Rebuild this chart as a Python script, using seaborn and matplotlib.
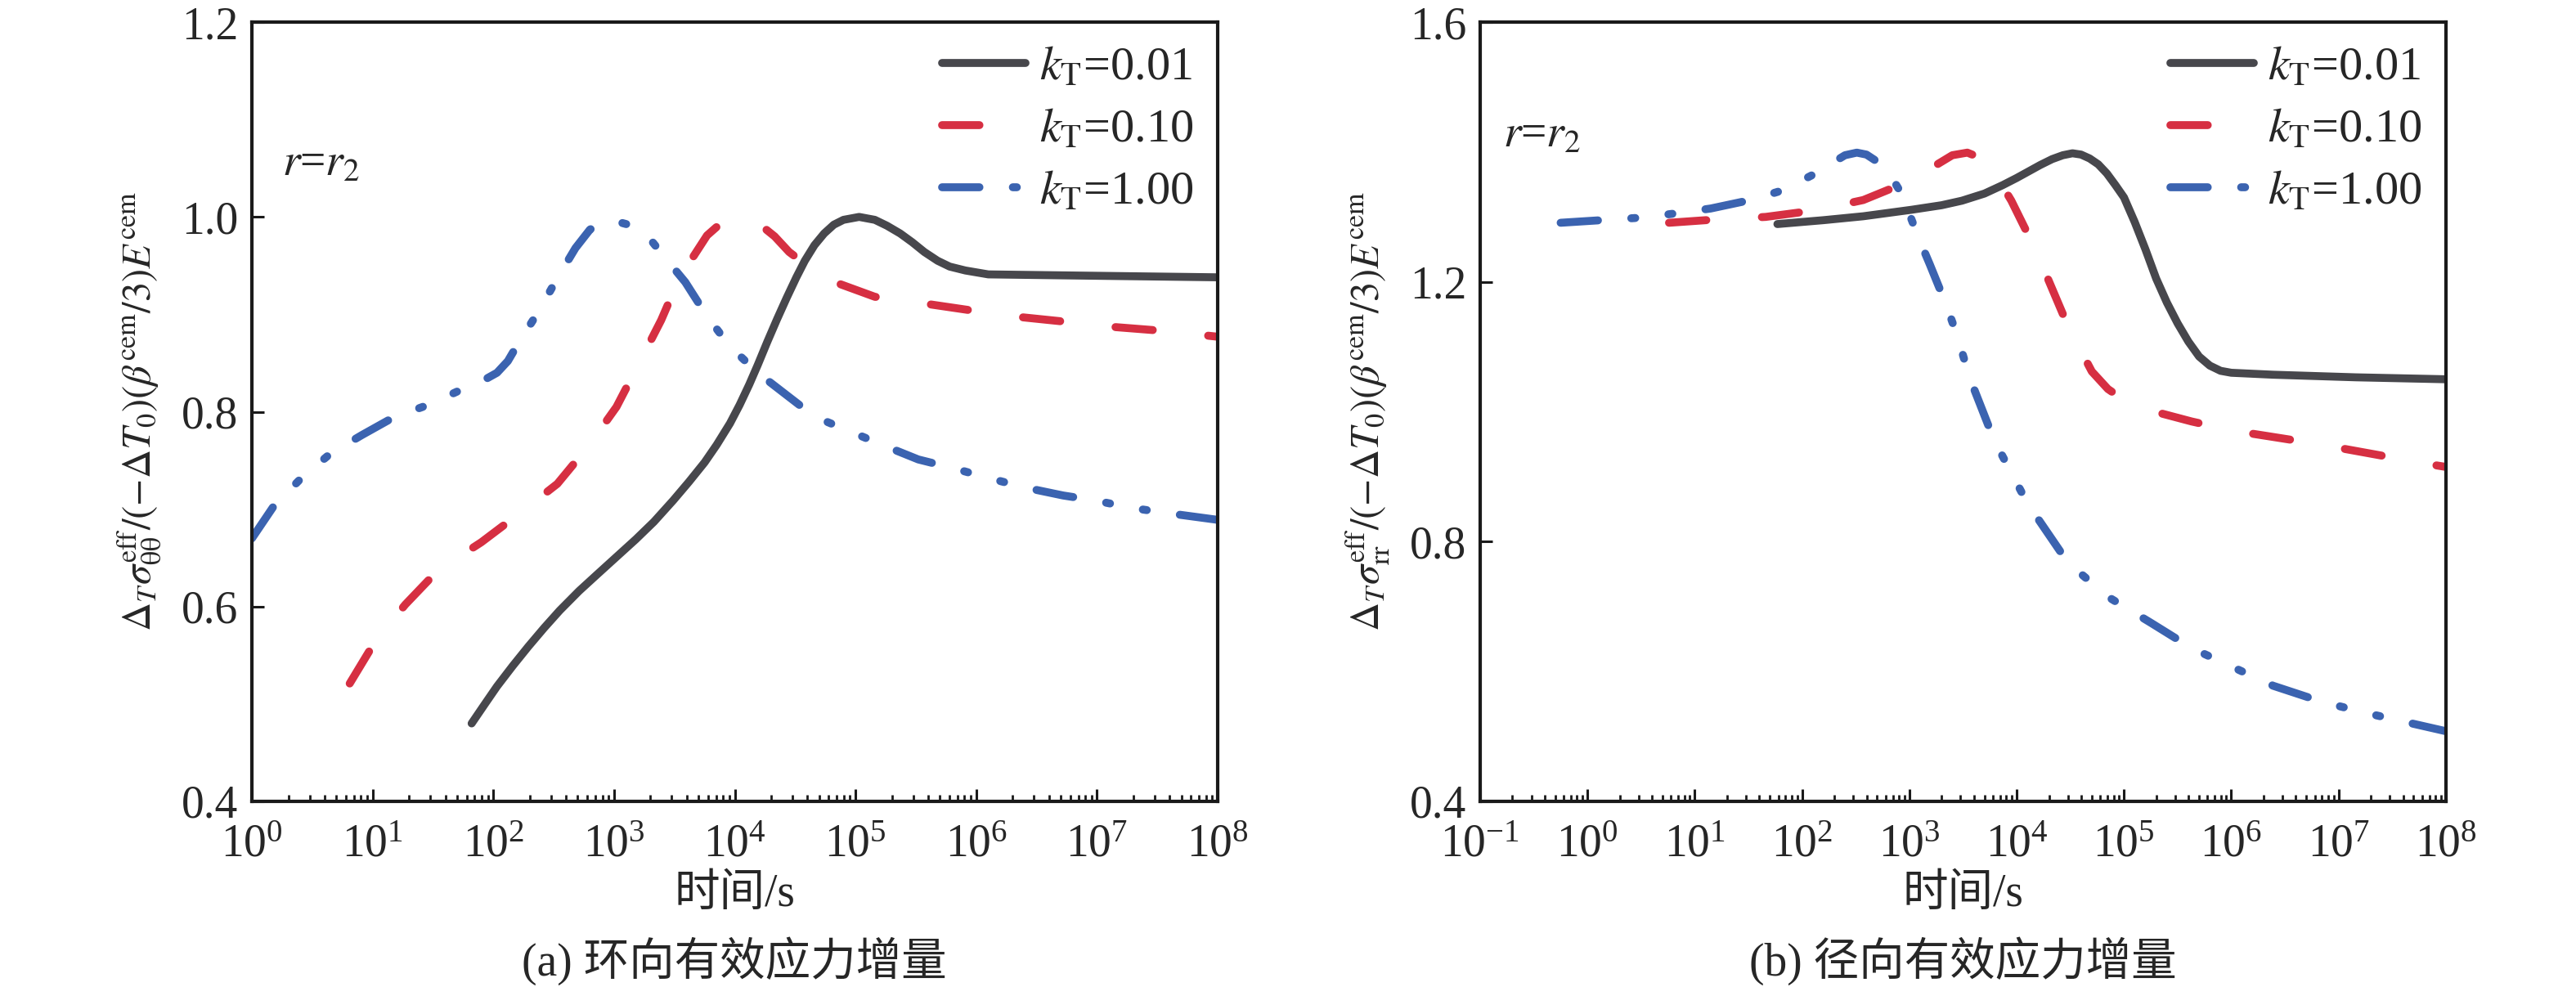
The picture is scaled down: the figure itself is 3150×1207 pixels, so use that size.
import numpy as np
import matplotlib
matplotlib.use("Agg")
import matplotlib.pyplot as plt
from matplotlib.ticker import LogLocator, NullFormatter, FixedLocator, FormatStrFormatter
import seaborn as sns

# values, time given as log10(t / s)
# (a) hoop stress increment
a_lgt_001 = [1.82, 1.93, 2.03, 2.16, 2.29, 2.42, 2.55, 2.71, 2.86, 3.02, 3.18, 3.33, 3.49, 3.62,
             3.75, 3.85, 3.96, 4.04, 4.12, 4.19, 4.27, 4.35, 4.43, 4.51, 4.58, 4.66, 4.74, 4.82,
             4.90, 5.03, 5.16, 5.26, 5.37, 5.47, 5.57, 5.68, 5.78, 5.91, 6.10, 6.72, 8.00]
a_val_001 = [0.480, 0.500, 0.518, 0.539, 0.559, 0.578, 0.596, 0.616, 0.633, 0.651, 0.669, 0.687, 0.709, 0.728,
             0.748, 0.766, 0.788, 0.807, 0.828, 0.848, 0.872, 0.895, 0.917, 0.938, 0.955, 0.971, 0.983, 0.992,
             0.997, 1.000, 0.997, 0.991, 0.983, 0.974, 0.964, 0.955, 0.949, 0.945, 0.941, 0.940, 0.938]

a_lgt_010 = [0.81, 1.02, 1.27, 1.54, 1.90, 2.21, 2.53, 2.79, 3.02, 3.20, 3.39, 3.54, 3.77, 3.88,
             3.96, 4.09, 4.20, 4.33, 4.45, 4.74, 5.16, 5.52, 5.96, 6.30, 6.77, 7.14, 7.55, 8.00]
a_val_010 = [0.521, 0.564, 0.602, 0.637, 0.666, 0.695, 0.726, 0.765, 0.805, 0.848, 0.894, 0.937, 0.981, 0.993,
             0.997, 0.999, 0.993, 0.980, 0.964, 0.937, 0.918, 0.912, 0.904, 0.898, 0.892, 0.887, 0.883, 0.877]

a_lgt_100 = [0.00, 0.18, 0.41, 0.65, 0.91, 1.17, 1.46, 1.74, 1.90, 2.03, 2.12, 2.21, 2.37, 2.53,
             2.68, 2.80, 2.89, 3.03, 3.18, 3.30, 3.41, 3.59, 3.77, 3.96, 4.19, 4.43, 4.66, 4.95,
             5.24, 5.52, 5.81, 6.10, 6.41, 6.72, 6.98, 7.30, 7.64, 8.00]
a_val_100 = [0.670, 0.703, 0.732, 0.757, 0.776, 0.794, 0.807, 0.823, 0.831, 0.840, 0.852, 0.871, 0.902, 0.937,
             0.968, 0.987, 0.993, 0.995, 0.990, 0.977, 0.960, 0.933, 0.898, 0.867, 0.840, 0.817, 0.795, 0.780,
             0.765, 0.751, 0.742, 0.732, 0.722, 0.714, 0.709, 0.701, 0.695, 0.689]

# (b) radial stress increment
b_lgt_001 = [1.77, 2.20, 2.57, 3.02, 3.30, 3.49, 3.70, 3.87, 4.00, 4.11, 4.22, 4.33, 4.43, 4.52,
             4.60, 4.68, 4.76, 4.84, 4.92, 5.00, 5.10, 5.20, 5.30, 5.40, 5.50, 5.60, 5.70, 5.80,
             5.90, 6.00, 6.39, 7.16, 8.00]
b_val_001 = [1.289, 1.295, 1.301, 1.311, 1.318, 1.325, 1.336, 1.349, 1.360, 1.370, 1.380, 1.389, 1.395, 1.398,
             1.396, 1.390, 1.381, 1.367, 1.349, 1.330, 1.292, 1.250, 1.205, 1.168, 1.136, 1.108, 1.085, 1.071,
             1.063, 1.060, 1.057, 1.053, 1.050]

b_lgt_010 = [0.76, 1.19, 1.66, 2.12, 2.57, 2.97, 3.26, 3.40, 3.54, 3.63, 3.72, 3.83, 3.95, 4.18,
             4.48, 4.70, 4.85, 5.00, 5.15, 5.63, 6.01, 6.78, 7.85, 8.00]
b_val_010 = [1.291, 1.296, 1.300, 1.310, 1.326, 1.353, 1.381, 1.395, 1.399, 1.393, 1.381, 1.358, 1.325, 1.248,
             1.131, 1.062, 1.035, 1.018, 1.006, 0.985, 0.971, 0.951, 0.919, 0.915]

b_lgt_100 = [-0.25, 0.51, 0.85, 1.15, 1.52, 1.82, 2.16, 2.30, 2.40, 2.51, 2.60, 2.72, 2.83, 2.93,
             3.08, 3.19, 3.34, 3.45, 3.56, 3.79, 4.10, 4.48, 4.86, 5.25, 5.63, 6.01, 6.39, 6.85,
             7.31, 8.00]
b_val_100 = [1.291, 1.299, 1.306, 1.313, 1.326, 1.341, 1.370, 1.385, 1.395, 1.399, 1.396, 1.383, 1.362, 1.335,
             1.270, 1.227, 1.166, 1.115, 1.053, 0.956, 0.859, 0.767, 0.714, 0.675, 0.636, 0.607, 0.578, 0.553,
             0.534, 0.508]

labels = [r'$k_{\rm T}$=0.01', r'$k_{\rm T}$=0.10', r'$k_{\rm T}$=1.00']
colors = ['#47474c', '#d62f42', '#3b63b0']
styles = ['-', (0, (4.7, 7.0)), (0, (4.7, 4.2, 0.5, 4.2, 0.5, 4.2))]

ylabel_a = r'$\Delta_T\sigma_{\mathrm{\theta\theta}}^{\rm eff}/(-\Delta T_0)(\beta^{\rm cem}/3)E^{\rm cem}$'
ylabel_b = r'$\Delta_T\sigma_{\rm rr}^{\rm eff}/(-\Delta T_0)(\beta^{\rm cem}/3)E^{\rm cem}$'
xlabel = '时间/s'
captions = ['(a) 环向有效应力增量', '(b) 径向有效应力增量']

sns.set_theme(style='ticks')
plt.rcParams['font.family'] = ['Liberation Serif', 'Noto Sans CJK SC', 'DejaVu Sans']
plt.rcParams['mathtext.fontset'] = 'stix'
plt.rcParams['axes.unicode_minus'] = True

fs = 20
fig = plt.figure(figsize=(15.75, 6.035), dpi=200)
ax_a = fig.add_axes([0.0978, 0.1881, 0.3749, 0.7895])
ax_b = fig.add_axes([0.5746, 0.1881, 0.3749, 0.7895])

panels = [
    (ax_a, [(a_lgt_001, a_val_001), (a_lgt_010, a_val_010), (a_lgt_100, a_val_100)],
     (1, 1e8), (0.4, 1.2), [0.4, 0.6, 0.8, 1.0, 1.2], ylabel_a, (0.031, 0.818)),
    (ax_b, [(b_lgt_001, b_val_001), (b_lgt_010, b_val_010), (b_lgt_100, b_val_100)],
     (0.1, 1e8), (0.4, 1.6), [0.4, 0.8, 1.2, 1.6], ylabel_b, (0.024, 0.855)),
]

for ax, series, xlim, ylim, yticks, ylab, rpos in panels:
    for (lgt, val), lab, col, ls in zip(series, labels, colors, styles):
        sns.lineplot(x=10 ** np.array(lgt), y=val, ax=ax, color=col, lw=3.5,
                     linestyle=ls, label=lab, dash_capstyle='round',
                     solid_capstyle='round', solid_joinstyle='round')
    ax.set_xscale('log')
    ax.set_xlim(*xlim)
    ax.set_ylim(*ylim)
    ax.xaxis.set_major_locator(LogLocator(base=10, numticks=20))
    ax.xaxis.set_minor_locator(LogLocator(base=10, subs=np.arange(2, 10), numticks=200))
    ax.xaxis.set_minor_formatter(NullFormatter())
    ax.yaxis.set_major_locator(FixedLocator(yticks))
    ax.yaxis.set_major_formatter(FormatStrFormatter('%.1f'))
    ax.tick_params(axis='both', which='major', direction='in', length=5.4, width=1.1,
                   labelsize=fs, top=False, right=False, color='#1a1a1a')
    ax.tick_params(axis='x', which='minor', direction='in', length=2.9, width=1.0,
                   top=False, color='#1a1a1a')
    ax.tick_params(axis='x', which='major', pad=10)
    ax.tick_params(axis='y', which='major', pad=6)
    for sp in ax.spines.values():
        sp.set_visible(True)
        sp.set_linewidth(1.5)
        sp.set_color('#1a1a1a')
    ax.set_xlabel(xlabel, fontsize=fs, labelpad=3)
    ax.set_ylabel(ylab, fontsize=17.5, labelpad=8)
    ax.text(rpos[0], rpos[1], r'$r$=$r_2$', transform=ax.transAxes, fontsize=fs,
            va='center', ha='left')
    ax.legend(loc='upper right', frameon=False, fontsize=21, handlelength=1.75,
              handletextpad=0.3, labelspacing=0.4, borderpad=0.3, borderaxespad=0.2)

fig.text(0.2851, 0.0265, captions[0], fontsize=fs, ha='center', va='center')
fig.text(0.7621, 0.0265, captions[1], fontsize=fs, ha='center', va='center')

fig.savefig('out.png', dpi=200)
